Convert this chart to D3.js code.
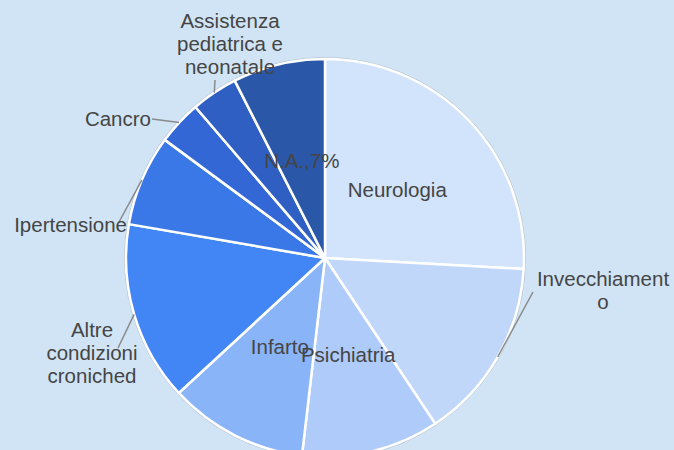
<!DOCTYPE html>
<html>
<head>
<meta charset="utf-8">
<script src="https://cdn.jsdelivr.net/npm/d3@7"></script>
<style>
  html, body { margin: 0; padding: 0; background: #d0e4f5; }
  svg { display: block; }
  text { font-family: Arial, "Liberation Sans", sans-serif; fill: #454545; }
</style>
</head>
<body>
<svg id="chart" width="674" height="450"></svg>
<script>
// ---- data ----
const categories = ["Neurologia", "Invecchiamento", "Psichiatria", "Infarto", "Altre condizioni croniched", "Ipertensione", "Cancro", "Assistenza pediatrica e neonatale", "N.A."];
const values = [25.9, 14.8, 11.2, 11.3, 14.6, 7.4, 3.6, 3.8, 7.5];
const labelLines = [["Neurologia"], ["Invecchiament", "o"], ["Psichiatria"], ["Infarto"], ["Altre", "condizioni", "croniched"], ["Ipertensione"], ["Cancro"], ["Assistenza", "pediatrica e", "neonatale"], ["N.A.,7%"]];

// ---- styles / layout ----
const colors = ["#d2e3fc", "#c1d7f9", "#aecbfa", "#8ab4f8", "#4285f4", "#3b78e7", "#3367d6", "#2f5fc3", "#2b57a8"];
const W = 674, H = 450;
const cx = 325, cy = 258, R = 199;
const fontSize = 20.5, lineH = 23;
// outside labels: text anchor position, anchor, and leader end
const outside = {
  1: { x: 603, y: 286, anchor: "middle", lx: 533, ly: 292 },
  4: { x: 92, y: 337, anchor: "middle", lx: 118, ly: 348 },
  5: { x: 127, y: 232, anchor: "end", lx: 119, ly: 222 },
  6: { x: 151, y: 126, anchor: "end", lx: 152, ly: 119 },
  7: { x: 230, y: 28, anchor: "middle", lx: 215, ly: 80 }
};

const svg = d3.select("#chart");
svg.append("rect").attr("width", W).attr("height", H).attr("fill", "#d0e4f5");

const pie = d3.pie().sort(null).value(d => d)(values);
const arc = d3.arc().innerRadius(0).outerRadius(R);
const edgeArc = d3.arc().innerRadius(R).outerRadius(R);
const g = svg.append("g").attr("transform", `translate(${cx},${cy})`);

g.append("circle").attr("r", R + 1.5).attr("fill", "none").attr("stroke", "#b8c4d0").attr("stroke-width", 1);

g.selectAll("path.slice").data(pie).enter().append("path")
  .attr("class", "slice")
  .attr("d", arc)
  .attr("fill", (d, i) => colors[i])
  .attr("stroke", "#ffffff")
  .attr("stroke-width", 2.5)
  .attr("stroke-linejoin", "round");

// leader lines
pie.forEach((d, i) => {
  const o = outside[i];
  if (!o) return;
  const [ex, ey] = edgeArc.centroid(d);
  svg.append("line")
    .attr("x1", cx + ex).attr("y1", cy + ey)
    .attr("x2", o.lx).attr("y2", o.ly)
    .attr("stroke", "#8a8a8a").attr("stroke-width", 1.5);
});

// labels
pie.forEach((d, i) => {
  const lines = labelLines[i];
  const o = outside[i];
  let x, y, anchor;
  if (o) {
    x = o.x; y = o.y; anchor = o.anchor;
  } else {
    const [px, py] = arc.centroid(d);
    x = cx + px; y = cy + py + fontSize * 0.35 - (lines.length - 1) * lineH / 2; anchor = "middle";
  }
  const t = svg.append("text")
    .attr("text-anchor", anchor)
    .attr("font-size", fontSize);
  lines.forEach((ln, k) => {
    t.append("tspan").attr("x", x).attr("y", y + k * lineH).text(ln);
  });
});
</script>
</body>
</html>
